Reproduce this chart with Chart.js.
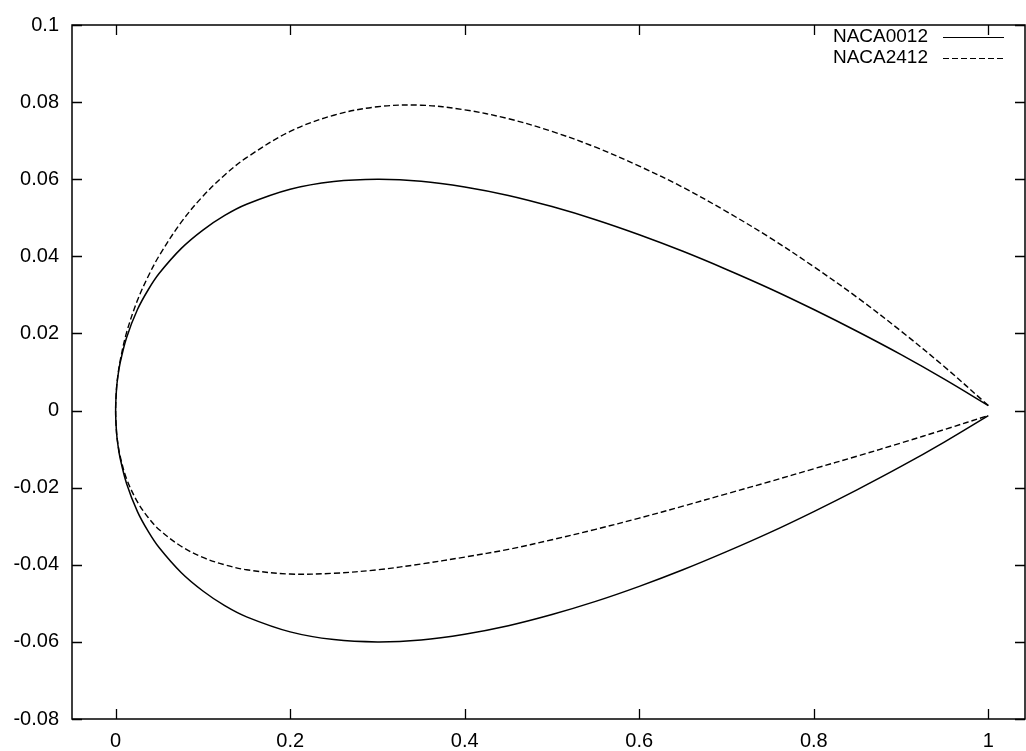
<!DOCTYPE html>
<html>
<head>
<meta charset="utf-8">
<title>NACA profiles</title>
<script src="https://cdn.jsdelivr.net/npm/chart.js@4.4.1/dist/chart.umd.min.js"></script>
<style>
  html, body { margin: 0; padding: 0; background: #fff; }
  canvas { display: block; }
</style>
</head>
<body>
<canvas id="profiles" width="1026" height="751"></canvas>
<script>
/* Airfoil outlines, NACA 0012 vs NACA 2412 */

// chord stations
const X_STATIONS = [0, 0.001, 0.0025, 0.005, 0.0125, 0.025, 0.0375, 0.05, 0.075, 0.1, 0.125, 0.15,
  0.2, 0.25, 0.3, 0.35, 0.4, 0.45, 0.5, 0.55, 0.6, 0.65, 0.7, 0.75, 0.8, 0.85, 0.9, 0.95, 1.0];

const NACA0012_UPPER = [0, 0.0056, 0.0087, 0.0122, 0.0189, 0.0262, 0.0314, 0.0356, 0.0420, 0.0468, 0.0506, 0.0535,
  0.0574, 0.0594, 0.0600, 0.0595, 0.0580, 0.0558, 0.0529, 0.0495, 0.0456, 0.0413, 0.0366, 0.0316, 0.0262, 0.0205, 0.0145, 0.0081, 0.0013];
const NACA0012_LOWER = [0, -0.0056, -0.0087, -0.0122, -0.0189, -0.0262, -0.0314, -0.0356, -0.0420, -0.0468, -0.0506, -0.0535,
  -0.0574, -0.0594, -0.0600, -0.0595, -0.0580, -0.0558, -0.0529, -0.0495, -0.0456, -0.0413, -0.0366, -0.0316, -0.0262, -0.0205, -0.0145, -0.0081, -0.0013];

const NACA2412_UPPER = [0, 0.0057, 0.0090, 0.0127, 0.0202, 0.0286, 0.0349, 0.0402, 0.0488, 0.0556, 0.0611, 0.0656,
  0.0724, 0.0766, 0.0788, 0.0792, 0.0780, 0.0757, 0.0724, 0.0683, 0.0634, 0.0579, 0.0516, 0.0448, 0.0373, 0.0293, 0.0206, 0.0113, 0.0013];
const NACA2412_LOWER = [0, -0.0055, -0.0085, -0.0117, -0.0177, -0.0237, -0.0278, -0.0309, -0.0352, -0.0381, -0.0400, -0.0413,
  -0.0424, -0.0422, -0.0413, -0.0398, -0.0380, -0.0360, -0.0335, -0.0308, -0.0279, -0.0248, -0.0216, -0.0184, -0.0151, -0.0118, -0.0084, -0.0049, -0.0013];

const X_TICKS = [0, 0.2, 0.4, 0.6, 0.8, 1];
const X_TICK_LABELS = ["0", "0.2", "0.4", "0.6", "0.8", "1"];
const Y_TICKS = [-0.08, -0.06, -0.04, -0.02, 0, 0.02, 0.04, 0.06, 0.08, 0.1];
const Y_TICK_LABELS = ["-0.08", "-0.06", "-0.04", "-0.02", "0", "0.02", "0.04", "0.06", "0.08", "0.1"];

const FONT = "'Liberation Sans', Arial, Helvetica, sans-serif";

// trailing edge -> leading edge along the upper side, then back along the lower side
function outline(upper, lower) {
  const pts = [];
  for (let i = X_STATIONS.length - 1; i >= 0; i--) pts.push({ x: X_STATIONS[i], y: upper[i] });
  for (let i = 1; i < X_STATIONS.length; i++) pts.push({ x: X_STATIONS[i], y: lower[i] });
  return pts;
}

function tickLabel(ticks, labels) {
  return v => {
    const i = ticks.findIndex(t => Math.abs(t - v) < 1e-9);
    return i >= 0 ? labels[i] : "";
  };
}

// frame, inward ticks on all four sides, gnuplot-style key
const framePlugin = {
  id: "frame",
  afterDatasetsDraw(chart) {
    const { ctx, chartArea: a, scales: { x, y } } = chart;
    const len = 10;
    ctx.save();
    ctx.strokeStyle = "#000";
    ctx.lineWidth = 1.5;
    ctx.strokeRect(a.left, a.top, a.right - a.left, a.bottom - a.top);
    ctx.beginPath();
    X_TICKS.forEach(v => {
      const px = Math.round(x.getPixelForValue(v)) + 0.5;
      ctx.moveTo(px, a.bottom); ctx.lineTo(px, a.bottom - len);
      ctx.moveTo(px, a.top); ctx.lineTo(px, a.top + len);
    });
    Y_TICKS.forEach(v => {
      const py = Math.round(y.getPixelForValue(v)) + 0.5;
      ctx.moveTo(a.left, py); ctx.lineTo(a.left + len, py);
      ctx.moveTo(a.right, py); ctx.lineTo(a.right - len, py);
    });
    ctx.lineWidth = 1.3;
    ctx.stroke();

    // key
    ctx.font = "19px " + FONT;
    ctx.textAlign = "right";
    ctx.textBaseline = "middle";
    ctx.fillStyle = "#000";
    chart.data.datasets.forEach((ds, i) => {
      const ty = 37 + i * 21;
      ctx.fillText(ds.label, 928, ty);
      ctx.beginPath();
      ctx.setLineDash(ds.borderDash || []);
      ctx.lineWidth = 1.2;
      ctx.moveTo(943, ty + 0.5);
      ctx.lineTo(1004, ty + 0.5);
      ctx.stroke();
    });
    ctx.restore();
  }
};

new Chart(document.getElementById("profiles"), {
  type: "scatter",
  data: {
    datasets: [
      {
        label: "NACA0012",
        data: outline(NACA0012_UPPER, NACA0012_LOWER),
        showLine: true, borderColor: "#000", borderWidth: 1.5,
        pointRadius: 0, tension: 0.35, fill: false
      },
      {
        label: "NACA2412",
        data: outline(NACA2412_UPPER, NACA2412_LOWER),
        showLine: true, borderColor: "#000", borderWidth: 1.4, borderDash: [6, 3],
        pointRadius: 0, tension: 0.35, fill: false
      }
    ]
  },
  options: {
    responsive: false,
    animation: false,
    devicePixelRatio: 1,
    layout: { padding: { top: 16, right: 1, left: 0, bottom: 0 } },
    plugins: {
      legend: { display: false },
      tooltip: { enabled: false }
    },
    scales: {
      x: {
        type: "linear", min: -0.05, max: 1.042,
        grid: { display: false, drawTicks: false },
        border: { display: false },
        afterBuildTicks: s => { s.ticks = X_TICKS.map(v => ({ value: v })); },
        afterFit: s => { s.height = 32; },
        ticks: { color: "#000", padding: 10, font: { family: FONT, size: 20 },
                 maxRotation: 0, autoSkip: false, callback: tickLabel(X_TICKS, X_TICK_LABELS) }
      },
      y: {
        type: "linear", min: -0.08, max: 0.1,
        grid: { display: false, drawTicks: false },
        border: { display: false },
        afterBuildTicks: s => { s.ticks = Y_TICKS.map(v => ({ value: v })); },
        afterFit: s => { s.width = 72; },
        ticks: { color: "#000", padding: 13, font: { family: FONT, size: 20 },
                 autoSkip: false, callback: tickLabel(Y_TICKS, Y_TICK_LABELS) }
      }
    }
  },
  plugins: [framePlugin]
});
</script>
</body>
</html>
